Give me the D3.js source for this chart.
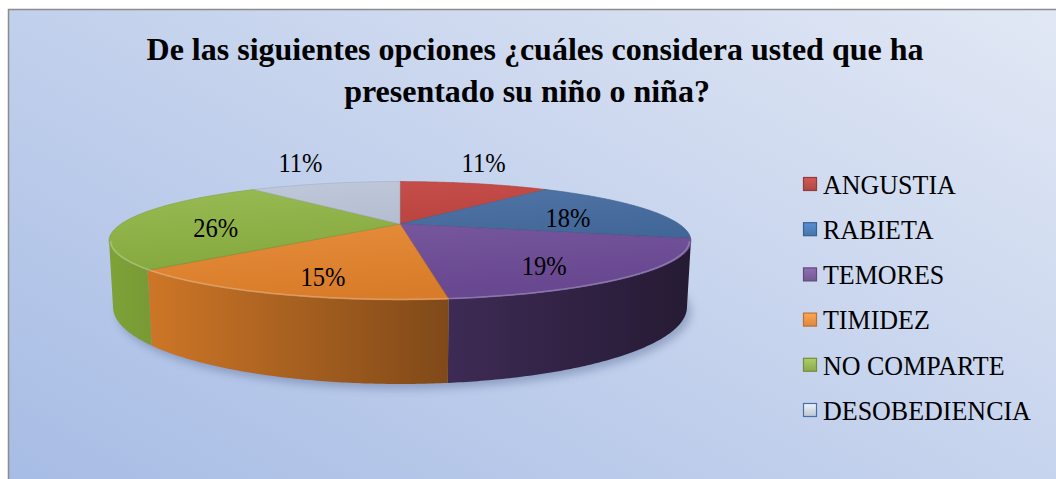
<!DOCTYPE html>
<html>
<head>
<meta charset="utf-8">
<script src="https://cdn.jsdelivr.net/npm/d3@7"></script>
</head>
<body style="margin:0; background:#fff">
<svg id="chart" width="1056" height="479" style="display:block" font-family="'Liberation Serif', 'Times New Roman', serif"></svg>
<script>
// data
var categories = ["ANGUSTIA", "RABIETA", "TEMORES", "TIMIDEZ", "NO COMPARTE", "DESOBEDIENCIA"];
var values = [11, 18, 19, 15, 26, 11];
var titleLines = ["De las siguientes opciones ¿cuáles considera usted que ha", "presentado su niño o niña?"];
var colors = ["#C23B37", "#3F69A0", "#7450A0", "#F08A2E", "#8DB43E", "#B9C4D8"];
var legendColors = ["#C0504D", "#4F81BD", "#8064A2", "#F79646", "#9BBB59", "#D3DBEA"];

var serif = "'Liberation Serif', 'Times New Roman', serif";
var svg = d3.select("#chart");
var defs = svg.append("defs");

// background of the chart area
var bg = defs.append("linearGradient").attr("id", "bg")
    .attr("x1", "0").attr("y1", "1").attr("x2", "1").attr("y2", "0");
bg.append("stop").attr("offset", "0").attr("stop-color", "#A0B7E3");
bg.append("stop").attr("offset", "1").attr("stop-color", "#E3E9F5");

svg.append("rect")
    .attr("x", 8.5).attr("y", 9.5)
    .attr("width", 1100).attr("height", 600)
    .attr("fill", "url(#bg)")
    .attr("stroke", "#8C8C8C")
    .attr("stroke-width", 1.5);

// title
svg.append("g").selectAll("text")
    .data(titleLines)
    .join("text")
    .attr("x", (d, i) => i == 0 ? 535 : 527)
    .attr("y", (d, i) => 60 + i * 42)
    .attr("text-anchor", "middle")
    .attr("font-family", serif)
    .attr("font-size", 32)
    .attr("font-weight", "bold")
    .text(d => d);

// 3D pie projection
var cx = 400, cy = 224, k = 279, D = 3.46;
var sn = 0.195, cs = Math.sqrt(1 - sn * sn), depth = 0.2276;

function project(X, Y, Z) {
    var d = D - (Y * sn + Z * cs);
    var u = Y * cs - Z * sn;
    return [cx + k * X * D / d, cy - k * u * D / d];
}
function rim(a, r, Y) {
    return project(r * Math.sin(a), Y, -r * Math.cos(a));
}
function arcPoints(a0, a1, r, Y) {
    var n = Math.max(2, Math.ceil(Math.abs(a1 - a0) / 0.01));
    var pts = [];
    for (var i = 0; i <= n; i++) pts.push(rim(a0 + (a1 - a0) * i / n, r, Y));
    return pts;
}

var pie = d3.pie().sort(null).value(d => d);
var arcs = pie(values);
var line = d3.line();

// visible part of the outer wall
var visA = Math.acos(-1 / (D * cs));
var vis0 = visA, vis1 = 2 * Math.PI - visA;

// soft shadow under the pie
var blur = defs.append("filter").attr("id", "blur")
    .attr("x", "-20%").attr("y", "-20%").attr("width", "140%").attr("height", "140%");
blur.append("feGaussianBlur").attr("stdDeviation", 4);
svg.append("path")
    .attr("d", line(arcPoints(0, 2 * Math.PI, 1.0, -depth)) + "Z")
    .attr("transform", "translate(4,5)")
    .attr("fill", "#3A4F7A")
    .attr("opacity", 0.35)
    .attr("filter", "url(#blur)");

// walls, shaded from left (light) to right (dark)
var xLeft = cx - k * 1.05, xRight = cx + k * 1.05;
arcs.forEach(function(a, i) {
    var g = defs.append("linearGradient").attr("id", "wall" + i)
        .attr("gradientUnits", "userSpaceOnUse")
        .attr("x1", xLeft).attr("x2", xRight).attr("y1", 0).attr("y2", 0);
    var base = d3.rgb(colors[i]);
    function shade(f) { return d3.rgb(base.r * f, base.g * f, base.b * f); }
    g.append("stop").attr("offset", "0").attr("stop-color", shade(0.9));
    g.append("stop").attr("offset", "0.55").attr("stop-color", shade(0.55));
    g.append("stop").attr("offset", "1").attr("stop-color", shade(0.32));
});

var walls = svg.append("g");
arcs.forEach(function(a, i) {
    var w0 = Math.max(a.startAngle, vis0), w1 = Math.min(a.endAngle, vis1);
    if (w0 >= w1) return;
    var pts = arcPoints(w0, w1, 1, 0).concat(arcPoints(w1, w0, 1, -depth));
    walls.append("path")
        .attr("d", line(pts) + "Z")
        .attr("fill", "url(#wall" + i + ")");
});

// top faces
var tops = svg.append("g");
arcs.forEach(function(a, i) {
    var pts = [project(0, 0, 0)].concat(arcPoints(a.startAngle, a.endAngle, 1, 0));
    tops.append("path")
        .attr("d", line(pts) + "Z")
        .attr("fill", colors[i])
        .attr("stroke", d3.rgb(colors[i]).darker(0.4))
        .attr("stroke-width", 0.6);
});

// light on the top face
var lit = defs.append("linearGradient").attr("id", "lit")
    .attr("x1", "0").attr("y1", "0").attr("x2", "0.3").attr("y2", "1");
lit.append("stop").attr("offset", "0").attr("stop-color", "#fff").attr("stop-opacity", 0.12);
lit.append("stop").attr("offset", "1").attr("stop-color", "#000").attr("stop-opacity", 0.1);
svg.append("path")
    .attr("d", line(arcPoints(0, 2 * Math.PI, 1, 0)) + "Z")
    .attr("fill", "url(#lit)");

// front rim highlight
svg.append("path")
    .attr("d", line(arcPoints(vis0, vis1, 0.995, 0)))
    .attr("fill", "none")
    .attr("stroke", "#fff")
    .attr("stroke-opacity", 0.25)
    .attr("stroke-width", 1.5);

// data labels
var labelsG = svg.append("g");
arcs.forEach(function(a, i) {
    var mid = (a.startAngle + a.endAngle) / 2;
    var p, dy;
    if (values[i] <= 11) {
        // small slices: label outside, above the rim
        p = rim(mid, 1.0, 0);
        p[0] += Math.sin(mid) * 50 - 8;
        dy = -21;
    } else {
        p = rim(mid, 0.67, 0);
        dy = 6 - Math.cos(mid) * 5;
    }
    labelsG.append("text")
        .attr("transform", "translate(" + p[0] + "," + (p[1] + dy) + ") scale(1,1.08)")
        .attr("text-anchor", "middle")
        .attr("dy", "0.35em")
        .attr("font-family", serif)
        .attr("font-size", 24.5)
        .text(values[i] + "%");
});

// legend
var legend = svg.append("g").attr("transform", "translate(803,184)");
var item = legend.selectAll("g")
    .data(categories)
    .join("g")
    .attr("transform", (d, i) => "translate(0," + i * 45.2 + ")");

categories.forEach(function(c, i) {
    var g = defs.append("linearGradient").attr("id", "leg" + i)
        .attr("x1", "0").attr("y1", "0").attr("x2", "0").attr("y2", "1");
    var base = d3.rgb(legendColors[i]);
    g.append("stop").attr("offset", "0").attr("stop-color", base.brighter(0.3));
    g.append("stop").attr("offset", "1").attr("stop-color", base.darker(0.3));
});

item.append("rect")
    .attr("x", 0.5).attr("y", -6.5)
    .attr("width", 13).attr("height", 13)
    .attr("fill", (d, i) => "url(#leg" + i + ")")
    .attr("stroke", (d, i) => i == 5 ? "#4A70A3" : d3.rgb(legendColors[i]).darker(0.8))
    .attr("stroke-width", 1.2);

item.append("text")
    .attr("transform", "translate(20,0) scale(1,1.08)")
    .attr("dy", "0.35em")
    .attr("font-family", serif)
    .attr("font-size", 26)
    .text(d => d);
</script>
</body>
</html>
